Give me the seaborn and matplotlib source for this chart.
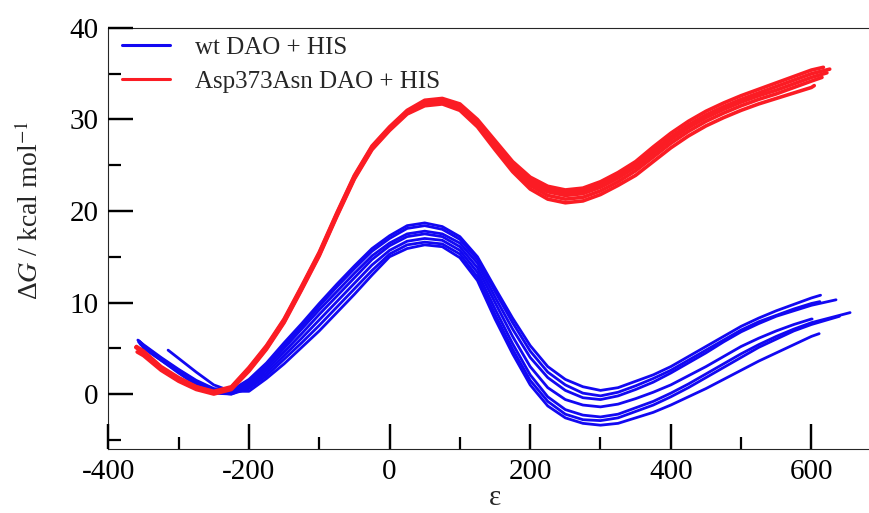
import seaborn as sns
import pandas as pd
import matplotlib.pyplot as plt
from matplotlib.lines import Line2D
from matplotlib.ticker import MultipleLocator

# ---------------------------------------------------------------------------- #
#                                    Datos                                     #
# ---------------------------------------------------------------------------- #
eps_grid = [-350, -325, -300, -275, -250, -225, -200, -175, -150, -125, -100, -75, -50,
            -25, 0, 25, 50, 75, 100, 125, 150, 175, 200, 225, 250, 275, 300, 325,
            350, 375, 400, 425, 450, 475, 500, 525, 550, 575, 600]

# wt DAO + HIS (7 perfiles)
wt_1 = [5.4, 4.0, 2.7, 1.5, 0.6, 0.4, 1.6, 3.4, 5.6, 7.7, 9.9, 12.0, 14.0,
        15.9, 17.3, 18.4, 18.7, 18.3, 17.2, 15.0, 11.6, 8.3, 5.3, 3.0, 1.6, 0.8, 0.4, 0.7,
        1.4, 2.1, 3.0, 4.1, 5.2, 6.3, 7.4, 8.3, 9.1, 9.8, 10.5]
wt_2 = [5.3, 3.9, 2.6, 1.4, 0.5, 0.3, 1.4, 3.1, 5.3, 7.4, 9.6, 11.7, 13.7,
        15.6, 17.0, 18.1, 18.4, 18.0, 16.9, 14.7, 11.2, 7.8, 4.7, 2.4, 1.0, 0.1, -0.2, 0.2,
        0.9, 1.7, 2.6, 3.7, 4.8, 5.9, 7.0, 7.9, 8.6, 9.3, 9.9]
wt_3 = [5.2, 3.8, 2.5, 1.3, 0.4, 0.2, 1.2, 2.9, 5.0, 7.1, 9.2, 11.2, 13.2,
        15.1, 16.5, 17.5, 17.8, 17.5, 16.5, 14.3, 10.6, 7.1, 4.0, 1.8, 0.4, -0.4, -0.6, -0.2,
        0.5, 1.3, 2.3, 3.4, 4.5, 5.7, 6.8, 7.7, 8.5, 9.1, 9.7]
wt_4 = [5.2, 3.8, 2.5, 1.2, 0.3, 0.1, 1.0, 2.6, 4.6, 6.6, 8.7, 10.7, 12.7,
        14.7, 16.2, 17.2, 17.5, 17.2, 16.1, 13.8, 10.0, 6.3, 3.0, 0.7, -0.6, -1.2, -1.4, -1.1,
        -0.5, 0.2, 1.0, 2.0, 3.0, 4.1, 5.2, 6.1, 6.9, 7.6, 8.2]
wt_5 = [5.0, 3.7, 2.4, 1.1, 0.2, 0.0, 0.8, 2.3, 4.2, 6.1, 8.1, 10.1, 12.1,
        14.1, 15.7, 16.7, 17.0, 16.8, 15.7, 13.3, 9.3, 5.5, 2.1, -0.3, -1.7, -2.3, -2.5, -2.2,
        -1.5, -0.8, 0.1, 1.1, 2.2, 3.3, 4.4, 5.4, 6.3, 7.1, 7.8]
wt_6 = [5.1, 3.7, 2.3, 1.0, 0.1, 0.0, 0.6, 2.0, 3.8, 5.6, 7.5, 9.5, 11.5,
        13.5, 15.3, 16.3, 16.6, 16.4, 15.3, 12.8, 8.7, 4.9, 1.5, -0.8, -2.2, -2.8, -2.9, -2.6,
        -1.9, -1.2, -0.3, 0.7, 1.8, 2.9, 4.0, 5.1, 6.0, 6.9, 7.6]
wt_7 = [None, None, 3.9, 2.4, 1.0, 0.3, 0.3, 1.7, 3.3, 5.1, 6.9, 8.9, 10.9,
        13.0, 15.0, 15.9, 16.3, 16.1, 14.9, 12.4, 8.2, 4.4, 1.0, -1.3, -2.6, -3.2, -3.4, -3.2,
        -2.6, -2.0, -1.2, -0.3, 0.6, 1.6, 2.6, 3.6, 4.5, 5.4, 6.3]
wt_start_eps = [-358, -356, -354, -357, -352, -355, -315]
wt_start_G = [5.9, 5.8, 5.6, 5.7, 5.4, 5.5, 4.8]
wt_end_eps = [613, 612, 635, 601, 655, 640, 611]
wt_end_G = [10.8, 10.1, 10.3, 8.2, 8.9, 8.5, 6.6]

# Asp373Asn DAO + HIS (5 perfiles)
mut_1 = [4.7, 3.0, 1.8, 0.8, 0.3, 0.8, 2.9, 5.3, 8.2, 11.8, 15.5, 19.8, 23.9,
         27.1, 29.2, 31.0, 32.1, 32.3, 31.7, 30.0, 27.7, 25.4, 23.7, 22.7, 22.3, 22.5, 23.2, 24.2,
         25.4, 27.0, 28.5, 29.8, 30.9, 31.8, 32.6, 33.3, 34.0, 34.7, 35.4]
mut_2 = [4.6, 2.9, 1.7, 0.8, 0.2, 0.7, 2.8, 5.2, 8.1, 11.7, 15.4, 19.7, 23.8,
         27.0, 29.1, 30.9, 31.9, 32.1, 31.5, 29.8, 27.4, 25.1, 23.4, 22.4, 22.0, 22.2, 22.9, 23.9,
         25.1, 26.6, 28.1, 29.4, 30.5, 31.4, 32.2, 32.9, 33.6, 34.3, 35.0]
mut_3 = [4.5, 2.8, 1.6, 0.7, 0.2, 0.7, 2.7, 5.1, 8.0, 11.6, 15.3, 19.6, 23.7,
         26.9, 29.0, 30.8, 31.8, 32.0, 31.4, 29.6, 27.2, 24.9, 23.1, 22.1, 21.7, 21.9, 22.6, 23.6,
         24.8, 26.3, 27.8, 29.1, 30.2, 31.1, 31.9, 32.6, 33.2, 33.9, 34.6]
mut_4 = [4.4, 2.7, 1.5, 0.6, 0.1, 0.6, 2.6, 5.0, 7.9, 11.5, 15.2, 19.5, 23.6,
         26.8, 28.9, 30.7, 31.6, 31.8, 31.2, 29.4, 27.0, 24.6, 22.8, 21.7, 21.3, 21.5, 22.2, 23.2,
         24.4, 25.9, 27.4, 28.7, 29.8, 30.7, 31.5, 32.2, 32.8, 33.5, 34.2]
mut_5 = [4.2, 2.6, 1.4, 0.5, 0.0, 0.5, 2.5, 4.9, 7.8, 11.4, 15.1, 19.4, 23.5,
         26.7, 28.8, 30.6, 31.5, 31.7, 31.0, 29.2, 26.7, 24.3, 22.4, 21.3, 20.9, 21.1, 21.8, 22.8,
         23.9, 25.4, 26.9, 28.2, 29.3, 30.2, 31.0, 31.7, 32.3, 32.9, 33.5]
mut_start_eps = [-360, -358, -361, -356, -359]
mut_start_G = [5.2, 5.0, 5.1, 4.8, 4.6]
mut_end_eps = [617, 626, 622, 615, 604]
mut_end_G = [35.7, 35.5, 35.1, 34.6, 33.7]

etiquetas = ["wt DAO + HIS", "Asp373Asn DAO + HIS"]
colores = ["#1208f2", "#fb1c24"]
grosores = [2.0, 2.6]

# armo el DataFrame largo
filas = []
grupos = [
    (etiquetas[0], [wt_1, wt_2, wt_3, wt_4, wt_5, wt_6, wt_7], wt_start_eps, wt_start_G, wt_end_eps, wt_end_G),
    (etiquetas[1], [mut_1, mut_2, mut_3, mut_4, mut_5], mut_start_eps, mut_start_G, mut_end_eps, mut_end_G),
]
for nombre, curvas, e0, g0, e1, g1 in grupos:
    for i, vals in enumerate(curvas):
        xs = [e0[i]] + eps_grid + [e1[i]]
        ys = [g0[i]] + vals + [g1[i]]
        for x, y in zip(xs, ys):
            if y is None:
                continue
            filas.append({"eps": x, "G": y, "grupo": nombre, "curva": f"{nombre}_{i}"})
df = pd.DataFrame(filas)

# ---------------------------------------------------------------------------- #
#                                   Grafico                                    #
# ---------------------------------------------------------------------------- #
sns.set_style("ticks")
plt.rcParams["font.family"] = ["Liberation Serif", "DejaVu Serif"]
plt.rcParams["axes.unicode_minus"] = False

fig = plt.figure(figsize=(8.7, 5.13), dpi=100)
ax = fig.add_axes([0.1245, 0.1248, 0.889, 0.8207])

# una sola llamada: color y grosor por grupo
sns.lineplot(data=df, x="eps", y="G", units="curva", estimator=None,
             hue="grupo", palette=dict(zip(etiquetas, colores)),
             size="grupo", sizes=dict(zip(etiquetas, grosores)),
             sort=False, ax=ax, legend=False)

ax.set_xlim(-400, 700)
ax.set_ylim(-6, 40)
ax.xaxis.set_major_locator(MultipleLocator(200))
ax.xaxis.set_minor_locator(MultipleLocator(100))
ax.yaxis.set_major_locator(MultipleLocator(10))
ax.yaxis.set_minor_locator(MultipleLocator(5))
# ticks hacia adentro, solo abajo e izquierda
ax.tick_params(axis="both", which="both", direction="in", bottom=True, left=True,
               top=False, right=False, width=1.6, color="black", labelcolor="black",
               labelsize=21, pad=7)
ax.tick_params(axis="both", which="major", length=18)
ax.tick_params(axis="both", which="minor", length=9)

# marcas mayores reforzadas en las posiciones del localizador
xt = [v for v in ax.get_xticks() if -400 <= v <= 700]
yt = [v for v in ax.get_yticks() if -6 <= v <= 40]
ax.vlines(xt, 0, 0.0594, transform=ax.get_xaxis_transform(), color="black",
          linewidth=1.6, clip_on=False, zorder=3)
ax.hlines(yt, 0, 0.0323, transform=ax.get_yaxis_transform(), color="black",
          linewidth=1.6, clip_on=False, zorder=3)

ax.set_xlabel("ε", fontsize=21, labelpad=0)
ax.set_ylabel("")
fig.text(0.035, 0.59, r"Δ$G$ / kcal mol$^{-1}$", rotation=90, fontsize=20,
         ha="center", va="center", math_fontfamily="stix")

# leyenda
handles = [Line2D([], [], color=c, linewidth=2.2) for c in colores]
ax.legend(handles, etiquetas, loc="upper left", bbox_to_anchor=(0.0177, 0.980),
          frameon=False, fontsize=18, handlelength=1.92, handletextpad=1.0,
          labelspacing=0.46, borderpad=0, borderaxespad=0)

fig.savefig("out.png", dpi=100)
